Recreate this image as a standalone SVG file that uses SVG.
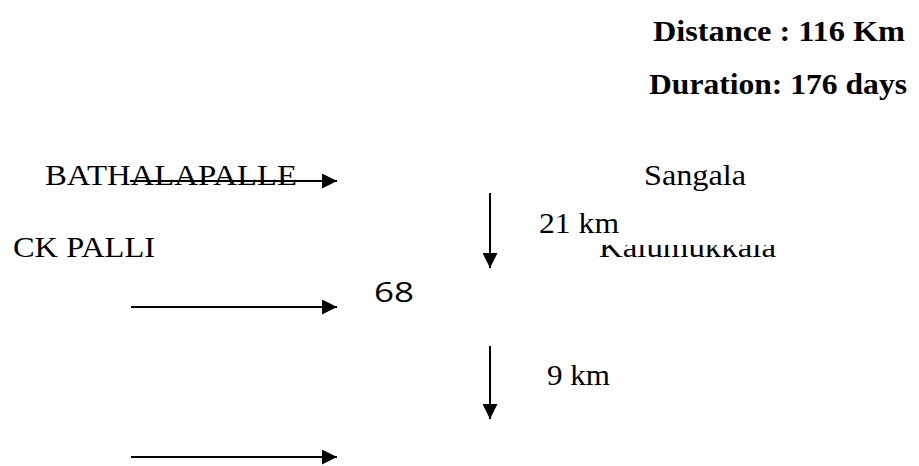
<svg xmlns="http://www.w3.org/2000/svg" width="919" height="466" viewBox="0 0 919 466">
  <style>
    .t { font-family: "Liberation Serif", "Times New Roman", serif; font-size: 29px; fill: #000; }
    .b { font-weight: bold; }
    .s { font-family: "Open Sans", "DejaVu Sans", sans-serif; font-size: 27px; fill: #000; }
    .c { stroke: #000; stroke-width: 2; fill: none; marker-end: url(#head); }
  </style>
  <defs>
    <marker id="head" viewBox="0 0 10 10" refX="10" refY="5" markerWidth="15" markerHeight="15" markerUnits="userSpaceOnUse" orient="auto">
      <path d="M0,0 L10,5 L0,10 Z" fill="#000"/>
    </marker>
    <clipPath id="lowerHalf">
      <rect x="590" y="245" width="200" height="40"/>
    </clipPath>
  </defs>
  <rect width="919" height="466" fill="#fff"/>

  <g id="summary">
    <text class="t b" x="653" y="41" textLength="252" lengthAdjust="spacingAndGlyphs">Distance : 116 Km</text>
    <text class="t b" x="649" y="94" textLength="258" lengthAdjust="spacingAndGlyphs">Duration: 176 days</text>
  </g>

  <g id="bathalapalle"><text class="t" x="45" y="185" textLength="252" lengthAdjust="spacingAndGlyphs">BATHALAPALLE</text></g>
  <g id="sangala"><text class="t" x="644" y="185" textLength="102" lengthAdjust="spacingAndGlyphs">Sangala</text></g>
  <g id="ck-palli"><text class="t" x="13" y="257" textLength="142" lengthAdjust="spacingAndGlyphs">CK PALLI</text></g>
  <g id="kalumukkala"><text class="t" x="599" y="257" textLength="177" lengthAdjust="spacingAndGlyphs" clip-path="url(#lowerHalf)">Kalumukkala</text></g>
  <g id="node-68"><text class="s" x="374" y="302" textLength="40" lengthAdjust="spacingAndGlyphs">68</text></g>

  <g id="connectors">
    <line class="c" x1="130" y1="181" x2="337" y2="181"/>
    <line class="c" x1="490" y1="193" x2="490" y2="268"/>
    <line class="c" x1="131" y1="307" x2="337" y2="307"/>
    <line class="c" x1="490" y1="346" x2="490" y2="419"/>
    <line class="c" x1="131" y1="457" x2="337" y2="457"/>
    <text class="t" x="539" y="233" textLength="80" lengthAdjust="spacingAndGlyphs">21 km</text>
    <text class="t" x="547" y="385" textLength="63" lengthAdjust="spacingAndGlyphs">9 km</text>
  </g>
</svg>
